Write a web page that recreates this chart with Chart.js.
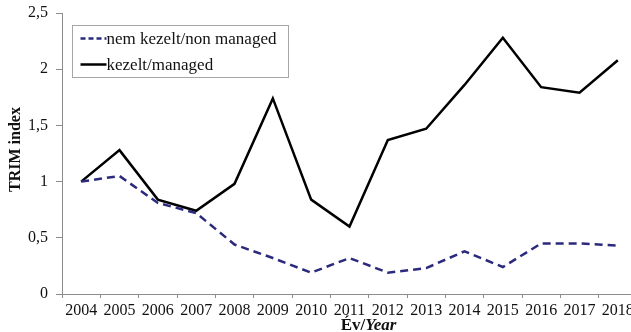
<!DOCTYPE html>
<html>
<head>
<meta charset="utf-8">
<script src="https://cdn.jsdelivr.net/npm/chart.js@4.4.1/dist/chart.umd.min.js"></script>
<style>
  html, body { margin: 0; padding: 0; background: #fff; overflow: hidden; }
  #wrap { width: 645px; height: 332px; }
</style>
</head>
<body>
<div id="wrap"><canvas id="trim" width="645" height="332"></canvas></div>
<script>
var years = ['2004', '2005', '2006', '2007', '2008', '2009', '2010', '2011',
             '2012', '2013', '2014', '2015', '2016', '2017', '2018'];
var nemKezelt = [1.0, 1.05, 0.81, 0.72, 0.44, 0.32, 0.19, 0.32,
                 0.19, 0.23, 0.38, 0.24, 0.45, 0.45, 0.43];
var kezelt = [1.0, 1.28, 0.84, 0.74, 0.98, 1.74, 0.84, 0.60,
              1.37, 1.47, 1.86, 2.28, 1.84, 1.79, 2.08];
var seriesNames = ['nem kezelt/non managed', 'kezelt/managed'];
var yTicks = [0, 0.5, 1, 1.5, 2, 2.5];

var serif = '"Liberation Serif", "Times New Roman", serif';
var axisGray = '#8c8c8c';

// legend in a framed box + axis titles (x title mixes upright and italic)
var extras = {
  id: 'extras',
  afterDraw: function(chart) {
    var ctx = chart.ctx;
    var area = chart.chartArea;
    ctx.save();

    // legend box
    var bx = 72.5, by = 25.5, bw = 216, bh = 52;
    ctx.strokeStyle = '#a6a6a6';
    ctx.lineWidth = 1;
    ctx.strokeRect(bx, by, bw, bh);
    ctx.font = '17px ' + serif;
    ctx.textBaseline = 'middle';
    chart.data.datasets.forEach(function(ds, i) {
      var ly = by + 13 + i * 26;
      ctx.beginPath();
      ctx.strokeStyle = ds.borderColor;
      ctx.lineWidth = 2.5;
      ctx.setLineDash(ds.borderDash ? [5, 3] : []);
      ctx.moveTo(bx + 8, ly);
      ctx.lineTo(bx + 34, ly);
      ctx.stroke();
      ctx.setLineDash([]);
      ctx.fillStyle = '#111';
      ctx.textAlign = 'left';
      ctx.fillText(ds.label, bx + 34, ly + 1);
    });

    // y title
    ctx.save();
    ctx.translate(15.5, (area.top + area.bottom) / 2 - 4);
    ctx.rotate(-Math.PI / 2);
    ctx.font = 'bold 16px ' + serif;
    ctx.textAlign = 'center';
    ctx.textBaseline = 'middle';
    ctx.fillStyle = '#111';
    ctx.fillText('TRIM index', 0, 0);
    ctx.restore();

    // x title
    var part1 = 'Év/', part2 = 'Year';
    ctx.font = 'bold 17px ' + serif;
    var w1 = ctx.measureText(part1).width;
    ctx.font = 'italic bold 17px ' + serif;
    var w2 = ctx.measureText(part2).width;
    var cx = (area.left + area.right) / 2 + 19;
    var x0 = cx - (w1 + w2) / 2;
    var ty = 326;
    ctx.textAlign = 'left';
    ctx.textBaseline = 'middle';
    ctx.fillStyle = '#111';
    ctx.font = 'bold 17px ' + serif;
    ctx.fillText(part1, x0, ty);
    ctx.font = 'italic bold 17px ' + serif;
    ctx.fillText(part2, x0 + w1, ty);

    ctx.restore();
  }
};

new Chart(document.getElementById('trim').getContext('2d'), {
  type: 'line',
  data: {
    labels: years,
    datasets: [
      {
        label: seriesNames[0],
        data: nemKezelt,
        borderColor: '#2b2a7c',
        borderWidth: 2.5,
        borderDash: [8, 5],
        pointRadius: 0,
        tension: 0,
        fill: false
      },
      {
        label: seriesNames[1],
        data: kezelt,
        borderColor: '#000000',
        borderWidth: 2.5,
        pointRadius: 0,
        tension: 0,
        fill: false
      }
    ]
  },
  plugins: [extras],
  options: {
    responsive: false,
    animation: false,
    layout: { padding: { left: 0, right: 8, top: 13, bottom: 0 } },
    plugins: {
      legend: { display: false },
      tooltip: { enabled: false }
    },
    scales: {
      x: {
        offset: true,
        grid: {
          offset: true,
          drawOnChartArea: false,
          drawTicks: true,
          tickLength: 4,
          color: axisGray
        },
        border: { color: axisGray, width: 1 },
        ticks: {
          color: '#111',
          font: { family: serif, size: 16 },
          padding: 3,
          maxRotation: 0,
          autoSkip: false
        },
        afterFit: function(scale) {
          scale.height = 38;
          scale.paddingLeft = 0;
          scale.paddingRight = 0;
        }
      },
      y: {
        min: 0,
        max: 2.5,
        afterBuildTicks: function(scale) {
          scale.ticks = yTicks.map(function(v) { return { value: v }; });
        },
        grid: {
          drawOnChartArea: false,
          drawTicks: true,
          tickLength: 6,
          color: axisGray
        },
        border: { color: axisGray, width: 1 },
        ticks: {
          color: '#111',
          font: { family: serif, size: 16 },
          padding: 8,
          callback: function(v) { return String(v).replace('.', ','); }
        },
        afterFit: function(scale) {
          scale.width = 62;
          scale.paddingTop = 0;
          scale.paddingBottom = 0;
        }
      }
    }
  }
});
</script>
</body>
</html>
